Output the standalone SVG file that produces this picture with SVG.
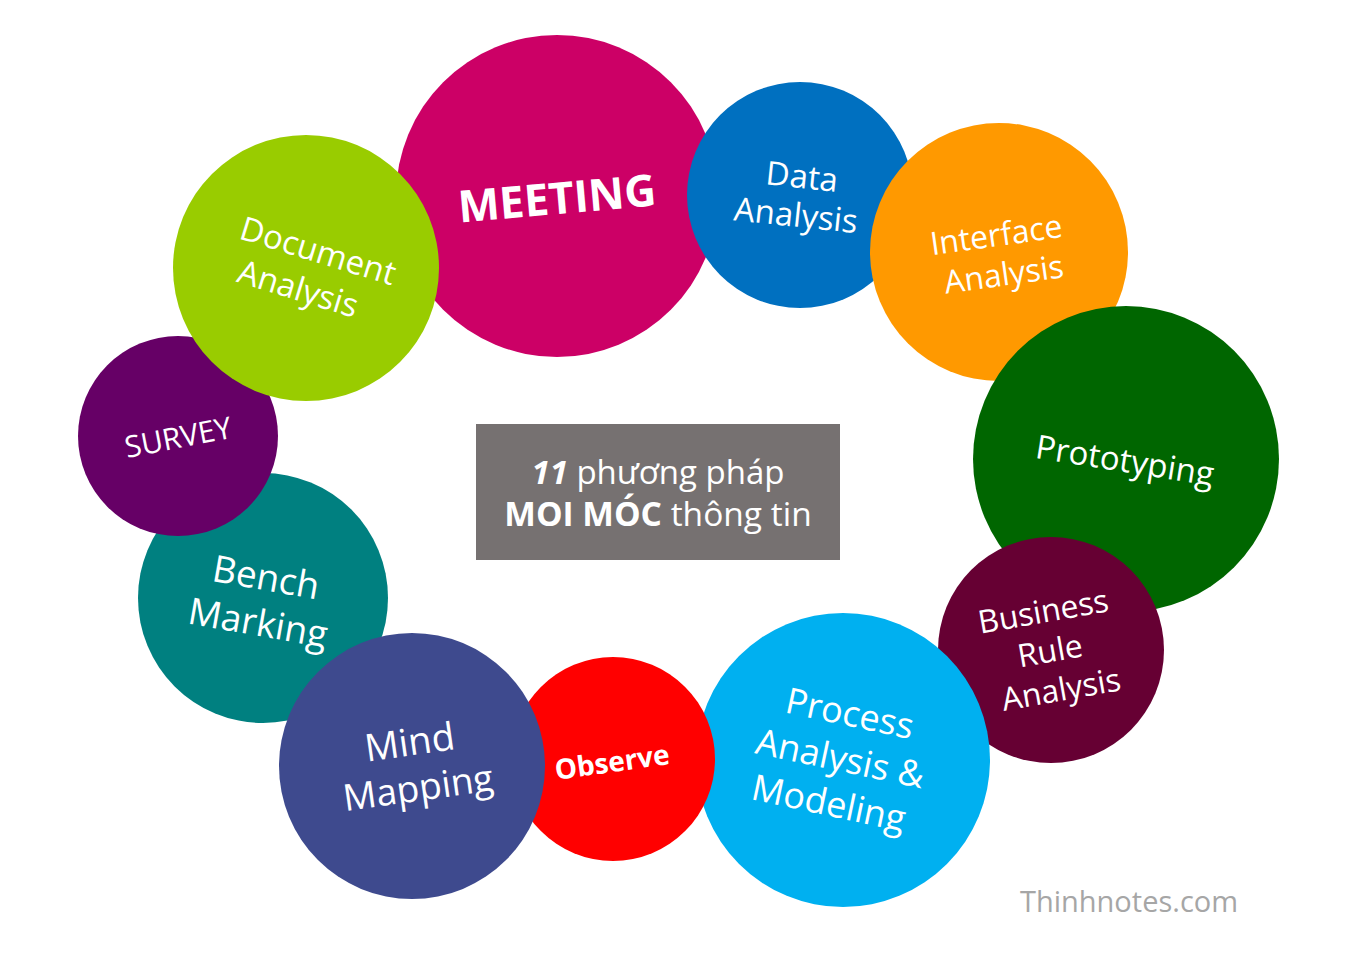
<svg xmlns="http://www.w3.org/2000/svg" width="1352" height="969" viewBox="0 0 1352 969">
<style>
text{font-family:"Open Sans","Noto Sans","DejaVu Sans",sans-serif;fill:#fff;text-anchor:middle}
.b{font-weight:bold}
.wm{fill:#A6A6A6;font-size:29px}
</style>
<rect width="1352" height="969" fill="#fff"/>
<g id="bench">
<circle cx="263" cy="598" r="125" fill="#008080"/>
<g transform="rotate(10 262 600)"><text x="262" y="590" font-size="37">Bench</text><text x="262" y="636" font-size="37">Marking</text></g>
</g>
<g id="meeting">
<circle cx="557" cy="196" r="161" fill="#CC0066"/>
<g transform="rotate(-5 557 198)"><text class="b" x="557" y="214" font-size="44">MEETING</text></g>
</g>
<g id="data">
<circle cx="800" cy="195" r="113" fill="#0070C0"/>
<g transform="rotate(6 800 196)"><text x="800" y="188" font-size="33">Data</text><text x="798" y="227" font-size="33">Analysis</text></g>
</g>
<g id="interface">
<circle cx="999" cy="252" r="129" fill="#FF9900"/>
<g transform="rotate(-8 999 255)"><text x="999" y="246" font-size="32">Interface</text><text x="1001" y="286" font-size="32">Analysis</text></g>
</g>
<g id="prototyping">
<circle cx="1126" cy="459" r="153" fill="#006600"/>
<g transform="rotate(9 1125 460)"><text x="1125" y="472" font-size="33">Prototyping</text></g>
</g>
<g id="business">
<circle cx="1051" cy="650" r="113" fill="#660033"/>
<g transform="rotate(-10 1050 650)"><text x="1050" y="622" font-size="32">Business</text><text x="1050" y="662" font-size="32">Rule</text><text x="1054" y="702" font-size="32">Analysis</text></g>
</g>
<g id="process">
<circle cx="843" cy="760" r="147" fill="#00B0F0"/>
<g transform="rotate(12 840 760)"><text x="840" y="725" font-size="36">Process</text><text x="840" y="771" font-size="36">Analysis &amp;</text><text x="838" y="817" font-size="36">Modeling</text></g>
</g>
<g id="observe">
<circle cx="613" cy="759" r="102" fill="#FF0000"/>
<g transform="rotate(-8 612 762)"><text class="b" x="612" y="772" font-size="28">Observe</text></g>
</g>
<g id="mind">
<circle cx="412" cy="766" r="133" fill="#3E4A8E"/>
<g transform="rotate(-8 415 766)"><text x="413" y="755" font-size="38">Mind</text><text x="415" y="801" font-size="37">Mapping</text></g>
</g>
<g id="survey">
<circle cx="178" cy="436" r="100" fill="#660066"/>
<g transform="rotate(-11 178 437)"><text x="178" y="448" font-size="30">SURVEY</text></g>
</g>
<g id="document">
<circle cx="306" cy="268" r="133" fill="#99CC00"/>
<g transform="rotate(17 307 270)"><text x="312" y="260" font-size="33">Document</text><text x="304" y="302" font-size="33">Analysis</text></g>
</g>
<g id="title">
<rect x="476" y="424" width="364" height="136" fill="#767171"/>
<text x="658" y="484" font-size="33"><tspan font-weight="bold" font-style="italic">11</tspan> phương pháp</text>
<text x="658" y="526" font-size="33.5"><tspan font-weight="bold">MOI MÓC</tspan> thông tin</text>
</g>
<g id="connectors"></g>
<text class="wm" x="1129" y="912">Thinhnotes.com</text>
</svg>
